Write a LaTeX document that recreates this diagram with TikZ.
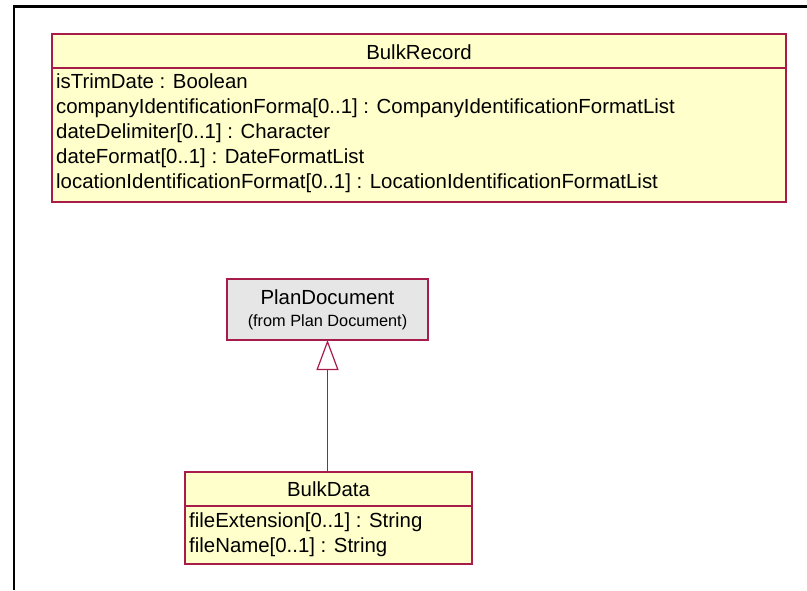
\documentclass[tikz,border=0pt]{standalone}
\usepackage{fontspec}
\setmainfont{Liberation Sans}
\usetikzlibrary{arrows.meta}
\definecolor{umlborder}{RGB}{168,28,74}
\definecolor{umlyellow}{RGB}{255,255,204}
\definecolor{umlgrey}{RGB}{230,230,230}
\begin{document}
\begin{tikzpicture}[x=1pt,y=-1pt,
  classbox/.style={draw=umlborder, line width=1.2pt, fill=umlyellow, anchor=north west, inner sep=0pt, outer sep=0pt},
  extbox/.style={draw=umlborder, line width=1.2pt, fill=umlgrey, anchor=north west, inner sep=0pt, outer sep=0pt},
  title/.style={font=\fontsize{20.4}{22}\selectfont, inner sep=0pt, anchor=base},
  attr/.style={font=\fontsize{20.4}{22}\selectfont, anchor=base west, inner sep=0pt},
  small/.style={font=\fontsize{16.3}{18}\selectfont, inner sep=0pt, anchor=base},
  sep/.style={draw=umlborder, line width=1.2pt},
  frame/.style={draw=black, line width=2.5pt}
]
\useasboundingbox (0,0) rectangle (807,590);
\draw[frame] (14,590) -- (14,6.5) -- (807,6.5);

% BulkRecord
\node[classbox, minimum width=734pt, minimum height=168pt] (br) at (52,34) {};
\draw[sep] (52,68) -- (786,68);
\node[title] (brt) at (419,59.3) {BulkRecord};
\node[attr] (br1) at (56,88.3) {isTrimDate : Boolean};
\node[attr] (br2) at (56,113.3) {companyIdentificationForma[0..1] : CompanyIdentificationFormatList};
\node[attr] (br3) at (56,138.3) {dateDelimiter[0..1] : Character};
\node[attr] (br4) at (56,163.3) {dateFormat[0..1] : DateFormatList};
\node[attr] (br5) at (56,188.3) {locationIdentificationFormat[0..1] : LocationIdentificationFormatList};

% PlanDocument
\node[extbox, minimum width=201pt, minimum height=61pt] (pd) at (227,279) {};
\node[title] (pdt) at (327.5,304.3) {PlanDocument};
\node[small] (pds) at (327.5,326.7) {(from Plan Document)};

% BulkData
\node[classbox, minimum width=287pt, minimum height=92pt] (bd) at (185,472) {};
\draw[sep] (185,506) -- (472,506);
\node[title] (bdt) at (328.5,496.7) {BulkData};
\node[attr] (bd1) at (189,527.3) {fileExtension[0..1] : String};
\node[attr] (bd2) at (189,552.7) {fileName[0..1] : String};

% generalization
\draw[umlborder, line width=1.2pt, -{Triangle[open, length=30pt, width=22pt, fill=white]}] (bd.north -| pd.south) -- (pd.south);
\end{tikzpicture}
\end{document}
